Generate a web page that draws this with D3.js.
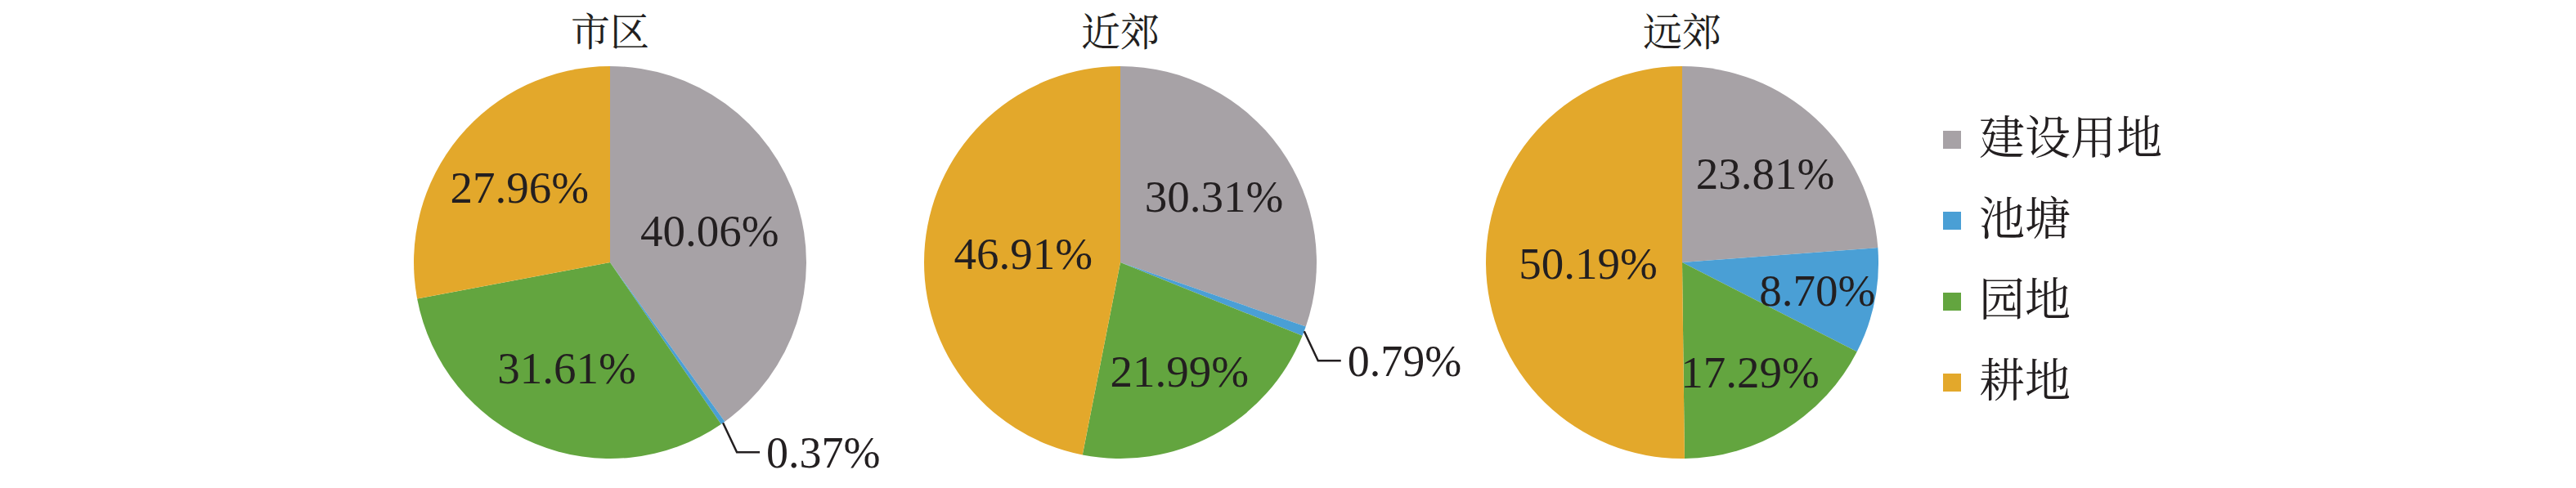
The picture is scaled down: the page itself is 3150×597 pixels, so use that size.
<!DOCTYPE html>
<html>
<head>
<meta charset="utf-8">
<script src="https://cdn.jsdelivr.net/npm/d3@7"></script>
<style>
  body { margin: 0; background: #fff; }
</style>
</head>
<body>
<div id="chart"></div>
<script>
// data
const regions = ['市区', '近郊', '远郊'];
const categories = ['建设用地', '池塘', '园地', '耕地'];
const urbanShares = [40.06, 0.37, 31.61, 27.96];
const nearShares = [30.31, 0.79, 21.99, 46.91];
const farShares = [23.81, 8.70, 17.29, 50.19];
const colors = ['#a7a2a6', '#4a9fd5', '#63a53f', '#e3a82b'];

// layout
const width = 3150;
const height = 597;
const pieX = [746, 1370, 2057];
const pieY = 321;
const radius = 240;
const serif = '"Liberation Serif", "Times New Roman", serif';
const cjk = '"Noto Serif CJK SC", "Noto Sans CJK SC", sans-serif';

const shares = [urbanShares, nearShares, farShares];

const color = d3.scaleOrdinal().domain(categories).range(colors);

const svg = d3
  .select('#chart')
  .append('svg')
  .attr('width', width)
  .attr('height', height)
  .style('background', '#fff');

const pie = d3
  .pie()
  .sort(null)
  .value((d) => d.value);

const arc = d3.arc().innerRadius(0).outerRadius(radius);
const edgeArc = d3.arc().innerRadius(radius).outerRadius(radius);

regions.forEach((region, i) => {
  const rows = categories.map((c, j) => ({ cat: c, value: shares[i][j] }));
  const total = d3.sum(rows, (d) => d.value);
  const g = svg
    .append('g')
    .attr('transform', `translate(${pieX[i]},${pieY})`);

  // title
  g.append('text')
    .attr('x', 0)
    .attr('y', 56 - pieY)
    .attr('text-anchor', 'middle')
    .style('font-family', cjk)
    .style('font-size', '48px')
    .attr('fill', '#231f20')
    .text(region);

  const slices = pie(rows);

  g.selectAll('path')
    .data(slices)
    .enter()
    .append('path')
    .attr('d', arc)
    .attr('fill', (d) => color(d.data.cat));

  slices.forEach((s) => {
    const frac = s.data.value / total;
    const label = s.data.value.toFixed(2) + '%';
    if (s.data.value < 2) {
      // leader line for very thin slices
      const p = edgeArc.centroid(s);
      const elbow = [p[0] + 17, p[1] + 36];
      const end = [elbow[0] + 28, elbow[1]];
      g.append('path')
        .attr('d', d3.line()([p, elbow, end]))
        .attr('fill', 'none')
        .attr('stroke', '#231f20')
        .attr('stroke-width', 2.5);
      g.append('text')
        .attr('x', end[0] + 8)
        .attr('y', end[1])
        .attr('dy', '0.35em')
        .attr('text-anchor', 'start')
        .style('font-family', serif)
        .style('font-size', '54px')
        .attr('fill', '#231f20')
        .text(label);
    } else {
      // bigger slices sit their label closer to the centre
      const r = radius * (0.75 - 0.54 * frac);
      const labelArc = d3.arc().innerRadius(r).outerRadius(r);
      const [x, y] = labelArc.centroid(s);
      g.append('text')
        .attr('x', x)
        .attr('y', y)
        .attr('dy', '0.35em')
        .attr('text-anchor', 'middle')
        .style('font-family', serif)
        .style('font-size', '55px')
        .attr('fill', '#231f20')
        .text(label);
    }
  });
});

// legend
const legend = svg
  .append('g')
  .attr('transform', 'translate(2376,171)');

const item = legend
  .selectAll('g')
  .data(categories)
  .enter()
  .append('g')
  .attr('transform', (d, i) => `translate(0,${i * 99})`);

item
  .append('rect')
  .attr('x', 0)
  .attr('y', -11)
  .attr('width', 22)
  .attr('height', 22)
  .attr('fill', (d) => color(d));

item
  .append('text')
  .attr('x', 44)
  .attr('y', 17)
  .style('font-family', cjk)
  .style('font-size', '56px')
  .attr('fill', '#231f20')
  .text((d) => d);
</script>
</body>
</html>
